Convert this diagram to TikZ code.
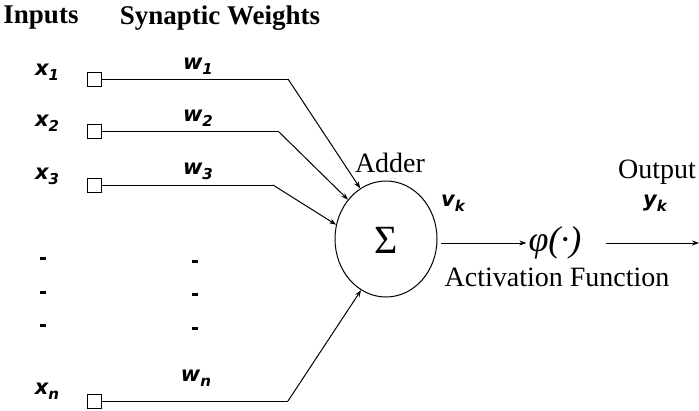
\documentclass[tikz,border=0pt]{standalone}
\usepackage{fontspec}
\setmainfont{Liberation Serif}
\newfontfamily\symfont{DejaVu Sans}
\usetikzlibrary{arrows.meta,shapes.geometric}
\newcommand\mysub[1]{\raisebox{-0.45ex}{\fontsize{15}{15}\selectfont #1}}
\tikzset{
  hdr/.style={font=\fontsize{27}{27}\selectfont\bfseries, inner sep=0pt},
  txt/.style={font=\fontsize{28}{28}\selectfont, inner sep=0pt},
  var/.style={font=\symfont\fontsize{21}{21}\selectfont\bfseries\itshape, inner sep=0pt},
  inbox/.style={draw, rectangle, minimum size=14pt, inner sep=0pt, line width=1pt},
  wire/.style={line width=1pt},
  arr/.style={line width=1pt, -{Stealth[length=7pt,width=5pt]}},
  dotmark/.style={fill=black, rectangle, minimum width=6pt, minimum height=3pt, inner sep=0pt},
}
\begin{document}
\begin{tikzpicture}[x=1pt,y=-1pt]
\useasboundingbox (0,0) rectangle (699,410);
% headers
\node[hdr] (hin) at (41,18) {Inputs};
\node[hdr] (hsw) at (220,18) {Synaptic Weights};
% input labels
\node[var] (lx1) at (47,72) {x\mysub{1}};
\node[var] (lx2) at (47,123) {x\mysub{2}};
\node[var] (lx3) at (47,176) {x\mysub{3}};
\node[var] (lxn) at (47,391) {x\mysub{n}};
% weight labels
\node[var] (lw1) at (198,66) {w\mysub{1}};
\node[var] (lw2) at (198,118) {w\mysub{2}};
\node[var] (lw3) at (198,171) {w\mysub{3}};
\node[var] (lwn) at (196,378) {w\mysub{n}};
% dots
\node[dotmark] (dl1) at (43,258) {};
\node[dotmark] (dl2) at (43,292) {};
\node[dotmark] (dl3) at (43,325) {};
\node[dotmark] (dr1) at (195,261) {};
\node[dotmark] (dr2) at (195,294) {};
\node[dotmark] (dr3) at (195,328) {};
% input boxes
\node[inbox] (b1) at (94,79) {};
\node[inbox] (b2) at (94,131) {};
\node[inbox] (b3) at (94,185) {};
\node[inbox] (bn) at (94,401) {};
% adder
\node[draw, ellipse, minimum width=102pt, minimum height=116pt, line width=1pt, inner sep=0pt] (sum) at (386,239) {};
\node[font=\fontsize{40}{40}\selectfont, inner sep=0pt] (sig) at (386,240) {Σ};
\node[txt] (adder) at (390,163) {Adder};
% bends
\coordinate (c1) at (288,79);
\coordinate (c2) at (278,131);
\coordinate (c3) at (273,185);
\coordinate (cn) at (288,401);
\draw[wire] (b1.east) -- (c1);
\draw[arr] (c1) -- (sum.117);
\draw[wire] (b2.east) -- (c2);
\draw[arr] (c2) -- (sum.134);
\draw[wire] (b3.east) -- (c3);
\draw[arr] (c3) -- (sum.164);
\draw[wire] (bn.east) -- (cn);
\draw[arr] (cn) -- (sum.244);
% activation
\node[var] (vk) at (453,203) {v\mysub{k}};
\node[font=\fontsize{36}{36}\selectfont\itshape, inner sep=0pt] (phi) at (555,243) {φ(·)};
\node[txt] (act) at (557,277) {Activation Function};
\node[txt] (outl) at (657,172) {Output};
\node[var] (yk) at (655,203) {y\mysub{k}};
\coordinate (o) at (699,243);
\draw[arr] (sum.east |- phi.west) ++(3pt,0) -- ([xshift=-2pt]phi.west);
\draw[arr] ([xshift=24pt]phi.east) -- (o);
\end{tikzpicture}
\end{document}
